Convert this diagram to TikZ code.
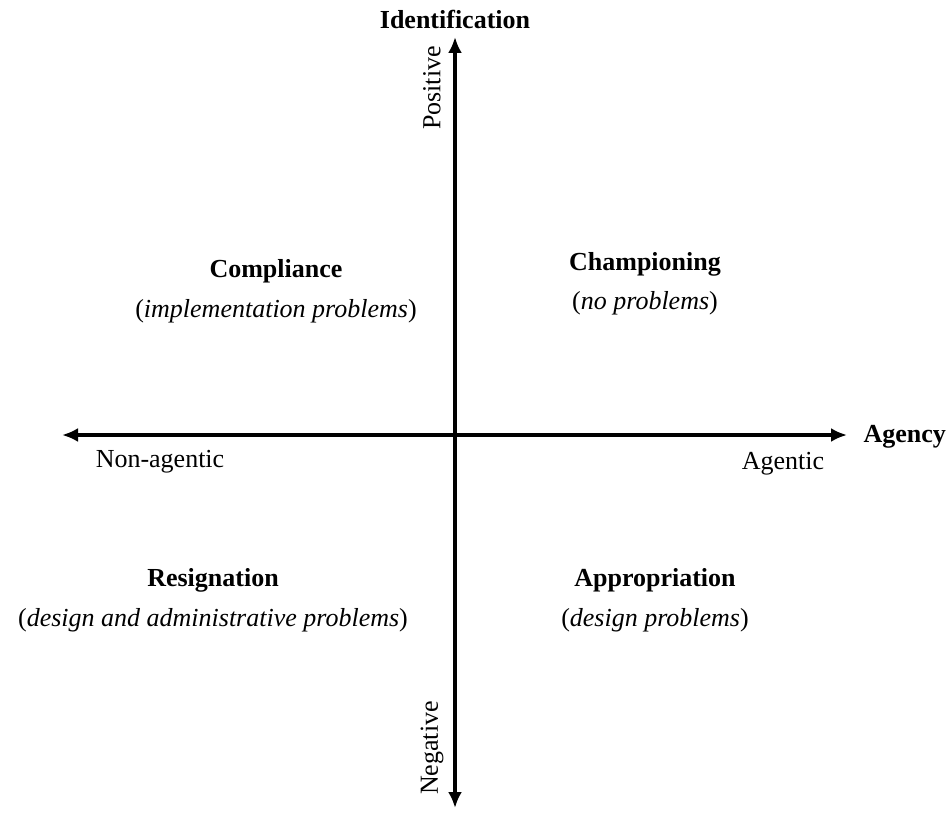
\documentclass[tikz,border=0pt]{standalone}
\usepackage{fontspec}
\setmainfont{Liberation Serif}
\usetikzlibrary{arrows.meta}
\begin{document}
\begin{tikzpicture}[x=1pt,y=-1pt,
  axis/.style={line width=3.2pt,-{Latex[length=16pt,width=14pt]}},
  head/.style={font=\fontsize{26}{30}\selectfont\bfseries},
  pole/.style={font=\fontsize{26}{30}\selectfont},
  sub/.style={font=\fontsize{26}{30}\selectfont}]
\useasboundingbox (0,0) rectangle (950,821);
% axes
\coordinate (o) at (455,435);
\coordinate (top) at (455,37);
\coordinate (bot) at (455,808);
\coordinate (lft) at (62,435);
\coordinate (rgt) at (847,435);
\draw[axis] (o) -- (top);
\draw[axis] (o) -- (bot);
\draw[axis] (o) -- (lft);
\draw[axis] (o) -- (rgt);
% axis titles
\node[head] (ident) at (455,19) {Identification};
\node[head,anchor=west] (agency) at (860,437) {Agency};
% poles
\node[pole,rotate=90] (pos) at (432,88) {Positive};
\node[pole,rotate=90] (neg) at (432,748) {Negative};
\node[pole] (nonag) at (160,462) {Non-agentic};
\node[pole] (ag) at (783,464) {Agentic};
% quadrants
\node[head] (compl) at (276,271) {Compliance};
\node[sub] (complsub) at (276,311) {(\textit{implementation problems})};
\node[head] (champ) at (645,264) {Championing};
\node[sub] (champsub) at (645,303) {(\textit{no problems})};
\node[head] (resig) at (213,580) {Resignation};
\node[sub] (resigsub) at (213,620) {(\textit{design and administrative problems})};
\node[head] (approp) at (655,580) {Appropriation};
\node[sub] (appropsub) at (655,620) {(\textit{design problems})};
\end{tikzpicture}
\end{document}
